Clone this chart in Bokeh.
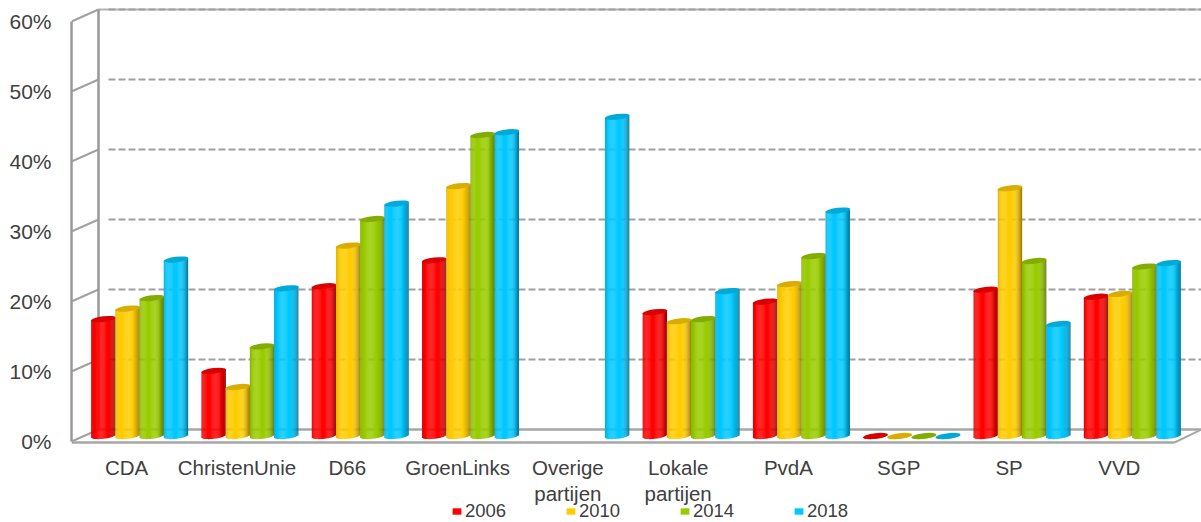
import math
from bokeh.core.properties import value
from bokeh.embed import file_html
from bokeh.resources import INLINE
from bokeh.plotting import figure
from bokeh.models import Range1d, FixedTicker, Legend, LegendItem, ColumnDataSource

categories = ["CDA", "ChristenUnie", "D66", "GroenLinks", "Overige\npartijen",
              "Lokale\npartijen", "PvdA", "SGP", "SP", "VVD"]
years = ["2006", "2010", "2014", "2018"]
v2006 = [16.7, 9.3, 21.4, 25.1, None, 17.7, 19.2, 0.0, 20.9, 19.9]
v2010 = [18.2, 7.0, 27.2, 35.7, None, 16.4, 21.7, 0.0, 35.4, 20.3]
v2014 = [19.7, 12.8, 31.0, 43.0, None, 16.7, 25.7, 0.0, 25.0, 24.2]
v2018 = [25.2, 21.1, 33.2, 43.4, 45.6, 20.7, 32.2, 0.0, 16.0, 24.7]
series = [v2006, v2010, v2014, v2018]
colors = ["#ff0000", "#ffcc00", "#99cc00", "#00c8ff"]
y_ticks = [0, 10, 20, 30, 40, 50, 60]

PX_X, PX_Y = 110.3, 7.0          # pixels per category / per 1 %
DEPTH_X, DEPTH_Y = 27 / PX_X, 12 / PX_Y
MID_X, MID_Y = 13 / PX_X, 5.5 / PX_Y
BAR_W = 24.2 / PX_X
N_STRIP = 26
ELL_H, TILT = 2.8, 1.4           # half-height and rise across half width, px


def shade(hexcol, t):
    r, g, b = (int(hexcol[i:i + 2], 16) for i in (1, 3, 5))
    if t < -0.55:
        f = 1 - 0.12 * ((-0.55 - t) / 0.45) ** 2
    elif t > 0.35:
        f = 1 - 0.40 * ((t - 0.35) / 0.65) ** 1.6
    else:
        f = 1.0
    return "#%02x%02x%02x" % (int(r * f), int(g * f), int(b * f))


x_start = -0.5
x_end = x_start + 1130 / PX_X
p = figure(frame_width=1130, frame_height=522, output_backend="svg", toolbar_location=None,
           x_range=Range1d(x_start, x_end),
           y_range=Range1d(-81 / PX_Y, 441 / PX_Y),
           min_border_left=71, min_border_right=0, min_border_top=0, min_border_bottom=0,
           outline_line_color=None, background_fill_color="white")
p.xgrid.visible = False
p.ygrid.visible = False
p.xaxis.visible = False

TEXT = "#404040"
LINE = "#a0a0a0"
ya = p.yaxis[0]
ya.ticker = FixedTicker(ticks=y_ticks)
ya.bounds = (0, 60)
ya.major_label_overrides = {t: f"{t}%" for t in y_ticks}
ya.major_tick_line_color = None
ya.minor_tick_line_color = None
ya.axis_line_color = "#999999"
ya.axis_line_width = 2.5
ya.major_label_text_font = "Liberation Sans"
ya.major_label_text_font_size = "21px"
ya.major_label_text_color = TEXT
ya.major_label_standoff = 14

# Category labels, in the band beneath the floor
p.text(x=list(range(len(categories))), y=[-14 / PX_Y] * len(categories), text=categories,
       text_align="center", text_baseline="top", text_line_height=1.17,
       text_font=value("Liberation Sans"), text_font_size=value("20.5px"), text_color=TEXT)

# Back wall gridlines
back_x = x_start + DEPTH_X
grid = [t for t in y_ticks if 0 < t]
p.segment([back_x], [60 + DEPTH_Y], [x_end], [60 + DEPTH_Y], line_color="#b4b4b4", line_width=2)
p.segment([back_x + 10 / PX_X] * len(grid), [t + DEPTH_Y for t in grid],
          [x_end] * len(grid), [t + DEPTH_Y for t in grid],
          line_color=LINE, line_width=2, line_dash="7 3")
p.segment([x_start] * len(y_ticks), y_ticks, [back_x] * len(y_ticks),
          [t + DEPTH_Y for t in y_ticks], line_color=LINE, line_width=2)
p.segment([back_x], [DEPTH_Y], [back_x], [60 + DEPTH_Y], line_color="#999999", line_width=2.5)
floor_y = -1 / PX_Y
front_end = x_start + len(categories)
p.segment([back_x], [DEPTH_Y], [x_end], [DEPTH_Y], line_color="#a6a6a6", line_width=2.5)
p.segment([x_start], [floor_y], [front_end], [floor_y], line_color="#a6a6a6", line_width=2.5)
p.segment([front_end], [floor_y], [x_end], [DEPTH_Y], line_color="#a6a6a6", line_width=2)

# Cylinders: thin strips with shading, driven by the values
legend_items = []
for s, (vals, col) in enumerate(zip(series, colors)):
    off = (s - 1.5) * BAR_W + MID_X
    xs, tops, bots, cols, ex, ey = [], [], [], [], [], []
    for i, v in enumerate(vals):
        if v is None:
            continue
        cx = i + off
        ex.append(cx)
        ey.append(v + MID_Y)
        for k in range(N_STRIP):
            t = -1 + (2 * k + 1) / N_STRIP
            rise = TILT * t / PX_Y
            curve = ELL_H * math.sqrt(max(0, 1 - t * t)) / PX_Y
            xs.append(cx + t * BAR_W / 2)
            tops.append(v + MID_Y + rise)
            bots.append(MID_Y + rise - curve)
            cols.append(shade(col, t))
    src = ColumnDataSource(dict(x=xs, top=tops, bottom=bots, color=cols))
    p.vbar(x="x", top="top", bottom="bottom", width=BAR_W / N_STRIP * 1.25, source=src,
           fill_color="color", line_color=None)
    r, g, b = (int(col[i:i + 2], 16) for i in (1, 3, 5))
    top_col = "#%02x%02x%02x" % (int(r * .85), int(g * .85), int(b * .85))
    p.ellipse(ex, ey, width=25, height=2 * ELL_H, angle=math.atan2(TILT, 12),
              width_units="screen", height_units="screen",
              fill_color=top_col, line_color=None)
    # flat swatch used by the legend, hidden behind the cylinders
    sw = p.vbar(x=[ex[0]], top=[MID_Y], bottom=[MID_Y], width=0.001, fill_color=col, line_color=None)
    legend_items.append(LegendItem(label=years[s], renderers=[sw]))

legend = Legend(items=legend_items, orientation="horizontal", location=(380, 0),
                background_fill_alpha=0, border_line_color=None, padding=0, margin=0,
                glyph_width=11, glyph_height=8, label_standoff=3, spacing=57, label_width=43,
                label_height=16,
                label_text_font="Liberation Sans", label_text_font_size="18.5px",
                label_text_color=TEXT)
p.add_layout(legend, "center")

open("out.html", "w").write(file_html(p, INLINE))
